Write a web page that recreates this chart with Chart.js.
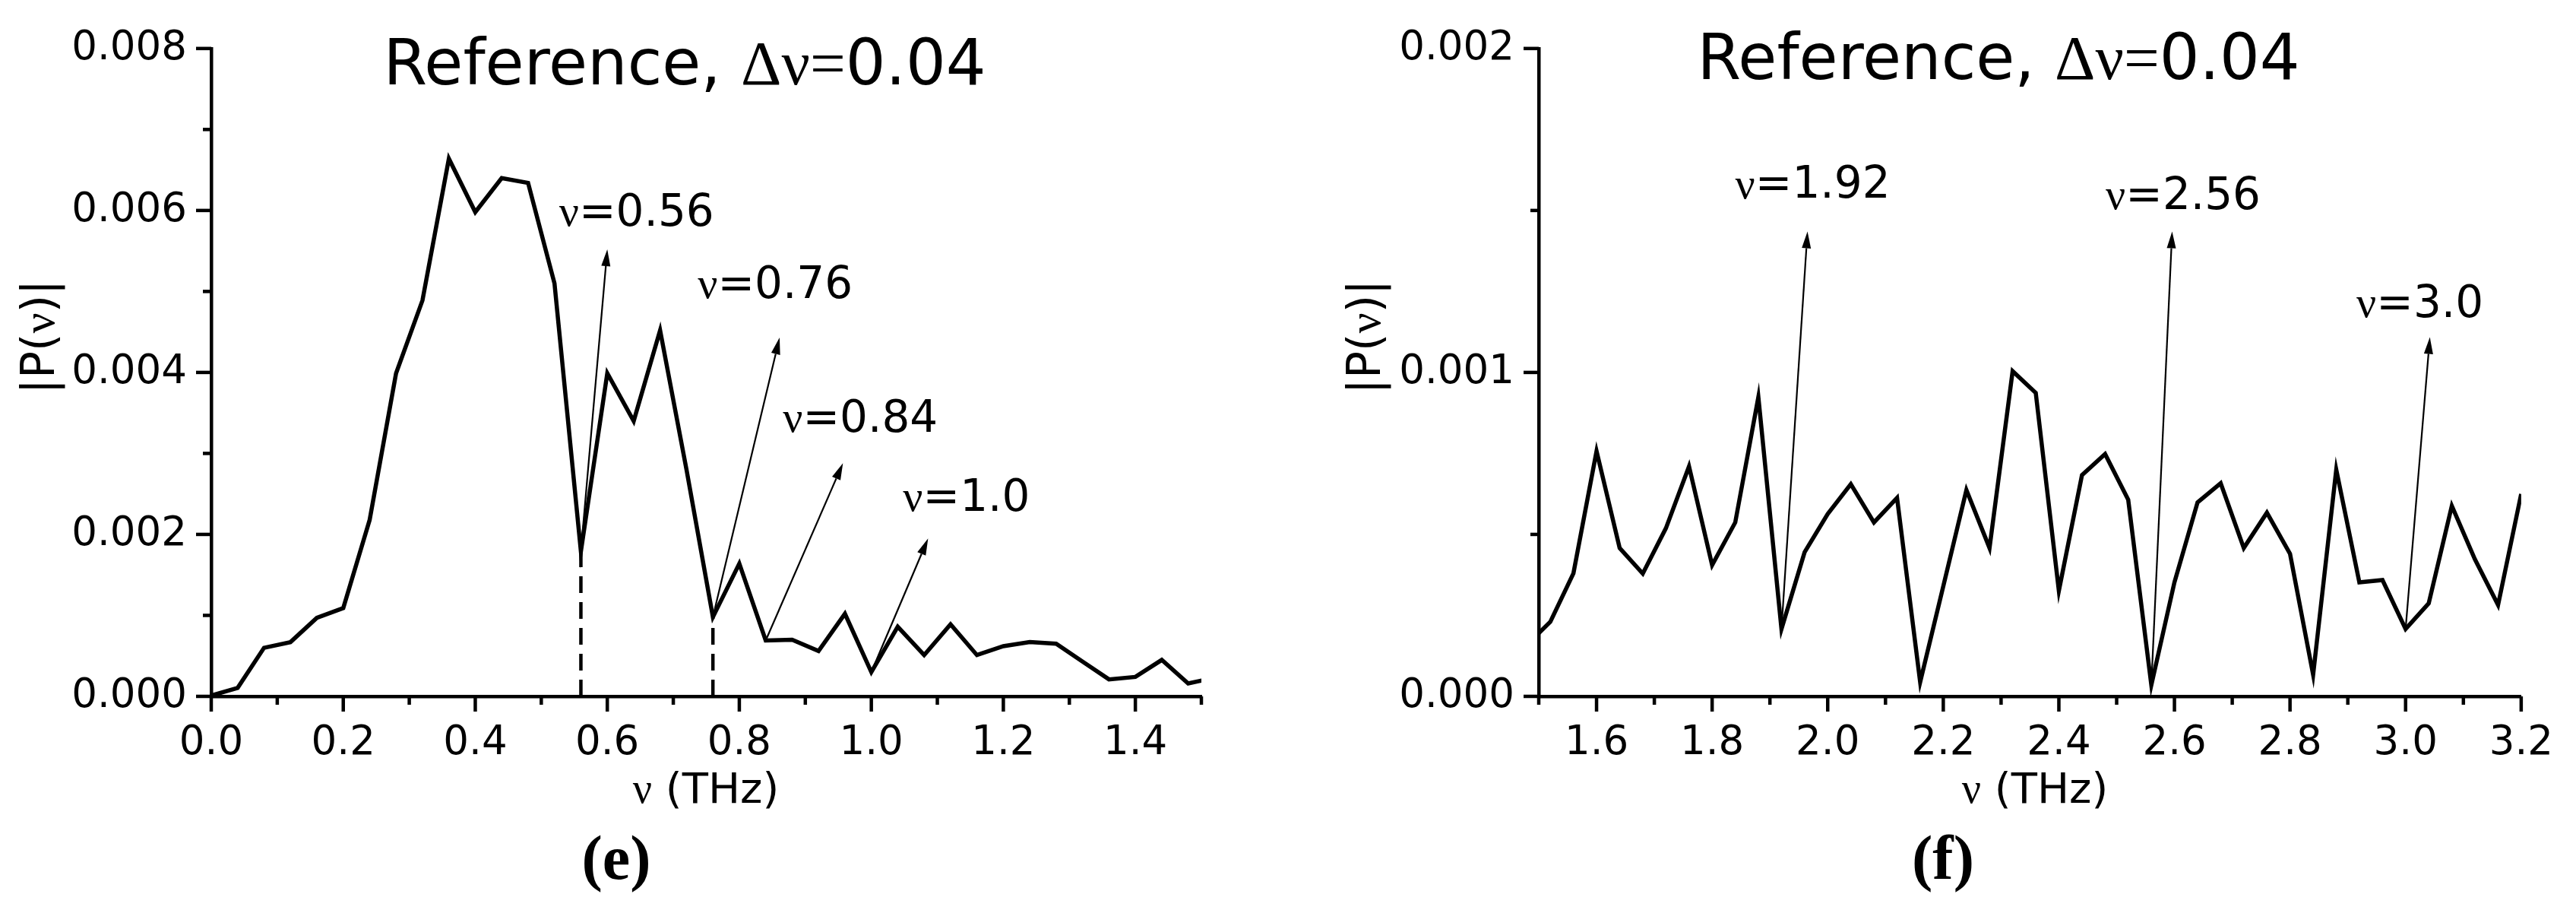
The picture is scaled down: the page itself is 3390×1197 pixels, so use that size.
<!DOCTYPE html>
<html lang="en">
<head>
<meta charset="UTF-8">
<title>|P(ν)| reference spectra</title>
<script src="https://cdn.jsdelivr.net/npm/chart.js@4"></script>
<style>
  html, body { margin: 0; padding: 0; background: #fff; }
  body { width: 3390px; height: 1197px; position: relative; overflow: hidden; }
  .panel { position: absolute; top: 0; }
  #panelE { left: 0; }
  #panelF { left: 1700px; }
</style>
</head>
<body>
<canvas id="panelE" class="panel" width="1700" height="1197"></canvas>
<canvas id="panelF" class="panel" width="1690" height="1197"></canvas>

<script>
// panel (e): 0 - 1.5 THz
const freqE = [0.00, 0.04, 0.08, 0.12, 0.16, 0.20, 0.24, 0.28, 0.32, 0.36,
               0.40, 0.44, 0.48, 0.52, 0.56, 0.60, 0.64, 0.68, 0.72, 0.76,
               0.80, 0.84, 0.88, 0.92, 0.96, 1.00, 1.04, 1.08, 1.12, 1.16,
               1.20, 1.24, 1.28, 1.32, 1.36, 1.40, 1.44, 1.48, 1.52];
const ampE = [0.00001, 0.000105, 0.0006, 0.00067, 0.00097, 0.00109, 0.00218, 0.00399, 0.00489, 0.00664,
              0.00598, 0.0064, 0.00634, 0.0051, 0.00179, 0.00399, 0.0034, 0.00452, 0.0028, 0.00098,
              0.00164, 0.00069, 0.0007, 0.00056, 0.00102, 0.0003, 0.00086, 0.00051, 0.00089, 0.00051,
              0.00062, 0.00067, 0.00065, 0.00043, 0.00021, 0.00024, 0.00045, 0.00016, 0.00023];

// panel (f): 1.5 - 3.2 THz
const freqF = [1.48, 1.52, 1.56, 1.60, 1.64, 1.68, 1.72, 1.76, 1.80, 1.84, 1.88,
               1.92, 1.96, 2.00, 2.04, 2.08, 2.12, 2.16, 2.20, 2.24, 2.28, 2.32,
               2.36, 2.40, 2.44, 2.48, 2.52, 2.56, 2.60, 2.64, 2.68, 2.72, 2.76,
               2.80, 2.84, 2.88, 2.92, 2.96, 3.00, 3.04, 3.08, 3.12, 3.16, 3.20];
const ampF = [0.00016, 0.00023, 0.00038, 0.000757, 0.000458, 0.000379, 0.000519, 0.00071, 0.000405, 0.000537, 0.000924,
              0.000208, 0.000445, 0.000563, 0.000655, 0.000537, 0.000613, 0.000044, 0.00034, 0.000637, 0.000458, 0.001004,
              0.000937, 0.000326, 0.000683, 0.000748, 0.000607, 0.000035, 0.000352, 0.000599, 0.000658, 0.000458, 0.000567,
              0.00044, 0.000067, 0.0007, 0.000352, 0.000359, 0.000208, 0.000287, 0.000588, 0.000423, 0.000282, 0.000625];

// tick values
const xMajorE = [0, 0.2, 0.4, 0.6, 0.8, 1.0, 1.2, 1.4];
const xMinorE = [0.1, 0.3, 0.5, 0.7, 0.9, 1.1, 1.3, 1.5];
const yMajorE = [0, 0.002, 0.004, 0.006, 0.008];
const yMinorE = [0.001, 0.003, 0.005, 0.007];
const xMajorF = [1.6, 1.8, 2.0, 2.2, 2.4, 2.6, 2.8, 3.0, 3.2];
const xMinorF = [1.5, 1.7, 1.9, 2.1, 2.3, 2.5, 2.7, 2.9, 3.1];
const yMajorF = [0, 0.001, 0.002];
const yMinorF = [0.0005, 0.0015];

// marked frequencies: [nu, tipNu, tipP, labelNu, labelP]
const marksE = [[0.56, 0.600, 0.00552, 0.527, 0.00595],
                [0.76, 0.861, 0.00443, 0.737, 0.00506],
                [0.84, 0.957, 0.00288, 0.866, 0.00341],
                [1.00, 1.086, 0.00195, 1.048, 0.00243]];
const markLabelsE = ['0.56', '0.76', '0.84', '1.0'];
const dropsE = [0.56, 0.76];
const marksF = [[1.92, 1.965, 0.001435, 1.840, 0.001574],
                [2.56, 2.596, 0.001435, 2.481, 0.00154],
                [3.00, 3.042, 0.001109, 2.915, 0.001206]];
const markLabelsF = ['1.92', '2.56', '3.0'];

const SANS = '"DejaVu Sans", sans-serif';
const SERIF = '"Liberation Serif", "Times New Roman", serif';

// draw text made of [string, 'sans'|'serif'] parts
function richText(ctx, parts, x, y, size, align) {
  const fontOf = p => `${size}px ${p[1] === 'serif' ? SERIF : SANS}`;
  let w = 0;
  parts.forEach(p => { ctx.font = fontOf(p); w += ctx.measureText(p[0]).width; });
  let cx = align === 'center' ? x - w / 2 : x;
  parts.forEach(p => {
    ctx.font = fontOf(p);
    ctx.textAlign = 'left';
    ctx.fillText(p[0], cx, y);
    cx += ctx.measureText(p[0]).width;
  });
}

function arrow(ctx, x0, y0, x1, y1) {
  const a = Math.atan2(y1 - y0, x1 - x0), L = 22, W = 6;
  const bx = x1 - L * Math.cos(a), by = y1 - L * Math.sin(a);
  ctx.lineWidth = 2.2;
  ctx.beginPath(); ctx.moveTo(x0, y0); ctx.lineTo(bx, by); ctx.stroke();
  ctx.beginPath();
  ctx.moveTo(x1, y1);
  ctx.lineTo(bx - W * Math.sin(a), by + W * Math.cos(a));
  ctx.lineTo(bx + W * Math.sin(a), by - W * Math.cos(a));
  ctx.closePath(); ctx.fill();
}

function makeDecor(cfg) {
  const valueAt = nu => cfg.amp[cfg.freq.findIndex(f => Math.abs(f - nu) < 1e-6)];
  return {
    id: 'decor',
    afterDatasetsDraw(chart) {
      const { ctx, scales: { x, y } } = chart;
      ctx.save();
      ctx.strokeStyle = '#000';
      ctx.fillStyle = '#000';
      // dashed drop lines
      ctx.lineWidth = 4.5;
      ctx.setLineDash([22, 12]);
      cfg.drops.forEach(nu => {
        ctx.beginPath();
        ctx.moveTo(x.getPixelForValue(nu), y.getPixelForValue(0));
        ctx.lineTo(x.getPixelForValue(nu), y.getPixelForValue(valueAt(nu)));
        ctx.stroke();
      });
      ctx.setLineDash([]);
      // arrows and labels
      ctx.textBaseline = 'middle';
      cfg.marks.forEach((m, i) => {
        arrow(ctx, x.getPixelForValue(m[0]), y.getPixelForValue(valueAt(m[0])),
                   x.getPixelForValue(m[1]), y.getPixelForValue(m[2]));
        richText(ctx, [['ν', 'serif'], ['=' + cfg.markLabels[i], 'sans']],
                 x.getPixelForValue(m[3]), y.getPixelForValue(m[4]), 58, 'left');
      });
      ctx.restore();
    },
    afterDraw(chart) {
      const { ctx, chartArea: ca, scales: { x, y } } = chart;
      ctx.save();
      ctx.strokeStyle = '#000';
      ctx.fillStyle = '#000';
      ctx.lineWidth = 4.5;
      // tick marks, outward
      const tx = (vals, len) => vals.forEach(v => {
        const px = x.getPixelForValue(v);
        ctx.beginPath(); ctx.moveTo(px, ca.bottom); ctx.lineTo(px, ca.bottom + len); ctx.stroke();
      });
      const ty = (vals, len) => vals.forEach(v => {
        const py = y.getPixelForValue(v);
        ctx.beginPath(); ctx.moveTo(ca.left, py); ctx.lineTo(ca.left - len, py); ctx.stroke();
      });
      tx(cfg.xMajor, 20); tx(cfg.xMinor, 11);
      ty(cfg.yMajor, 20); ty(cfg.yMinor, 11);

      ctx.textBaseline = 'alphabetic';
      // title
      richText(ctx, [['Reference, ', 'sans'], ['Δν=', 'serif'], ['0.04', 'sans']],
               cfg.titleX, cfg.titleY, 83, 'center');
      // x axis title
      richText(ctx, [['ν', 'serif'], [' (THz)', 'sans']], cfg.xTitleX, 1056, 56, 'center');
      // y axis title, rotated
      ctx.save();
      ctx.translate(cfg.yTitleX, 443);
      ctx.rotate(-Math.PI / 2);
      ctx.textBaseline = 'middle';
      richText(ctx, [['|P(', 'sans'], ['ν', 'serif'], [')|', 'sans']], 0, 0, 60, 'center');
      ctx.restore();
      // panel letter
      ctx.font = `bold 82px ${SERIF}`;
      ctx.textAlign = 'center';
      ctx.fillText(cfg.letter, cfg.letterX, 1156);
      ctx.restore();
    }
  };
}

function makeChart(id, freq, amp, o) {
  const tickFont = { family: 'DejaVu Sans', size: 53 };
  return new Chart(document.getElementById(id), {
    type: 'line',
    data: {
      datasets: [{
        data: freq.map((f, i) => ({ x: f, y: amp[i] })),
        borderColor: '#000',
        borderWidth: 5.5,
        borderJoinStyle: 'miter',
        pointRadius: 0,
        tension: 0,
        fill: false
      }]
    },
    options: {
      responsive: false,
      animation: false,
      devicePixelRatio: 1,
      layout: { padding: { left: 0, top: 47, right: o.padRight, bottom: 0 } },
      plugins: { legend: { display: false }, tooltip: { enabled: false } },
      scales: {
        x: {
          type: 'linear', min: o.xMin, max: o.xMax,
          afterBuildTicks: s => { s.ticks = o.xMajor.map(v => ({ value: v })); },
          afterFit: s => { s.height = 281; },
          grid: { display: false, drawTicks: false },
          border: { display: true, color: '#000', width: 4.5 },
          ticks: { callback: v => v.toFixed(1), font: tickFont, color: '#000', padding: 30,
                   maxRotation: 0, autoSkip: false }
        },
        y: {
          type: 'linear', min: o.yMin, max: o.yMax,
          afterBuildTicks: s => { s.ticks = o.yMajor.map(v => ({ value: v })); },
          afterFit: s => { s.width = o.yWidth; },
          grid: { display: false, drawTicks: false },
          border: { display: true, color: '#000', width: 4.5 },
          ticks: { callback: v => v.toFixed(3), font: tickFont, color: '#000', padding: 32 }
        }
      }
    },
    plugins: [makeDecor(Object.assign({ freq, amp }, o))]
  });
}

makeChart('panelE', freqE, ampE, {
  xMin: 0, xMax: 1.5, yMin: 0, yMax: 0.008, padRight: 119, yWidth: 278,
  xMajor: xMajorE, xMinor: xMinorE, yMajor: yMajorE, yMinor: yMinorE,
  marks: marksE, markLabels: markLabelsE, drops: dropsE,
  titleX: 901, titleY: 111, xTitleX: 929, yTitleX: 55, letter: '(e)', letterX: 811
});

makeChart('panelF', freqF, ampF, {
  xMin: 1.5, xMax: 3.2, yMin: 0, yMax: 0.002, padRight: 54, yWidth: 325,
  xMajor: xMajorF, xMinor: xMinorF, yMajor: yMajorF, yMinor: yMinorF,
  marks: marksF, markLabels: markLabelsF, drops: [],
  titleX: 930, titleY: 104, xTitleX: 978, yTitleX: 100, letter: '(f)', letterX: 857
});
</script>
</body>
</html>
